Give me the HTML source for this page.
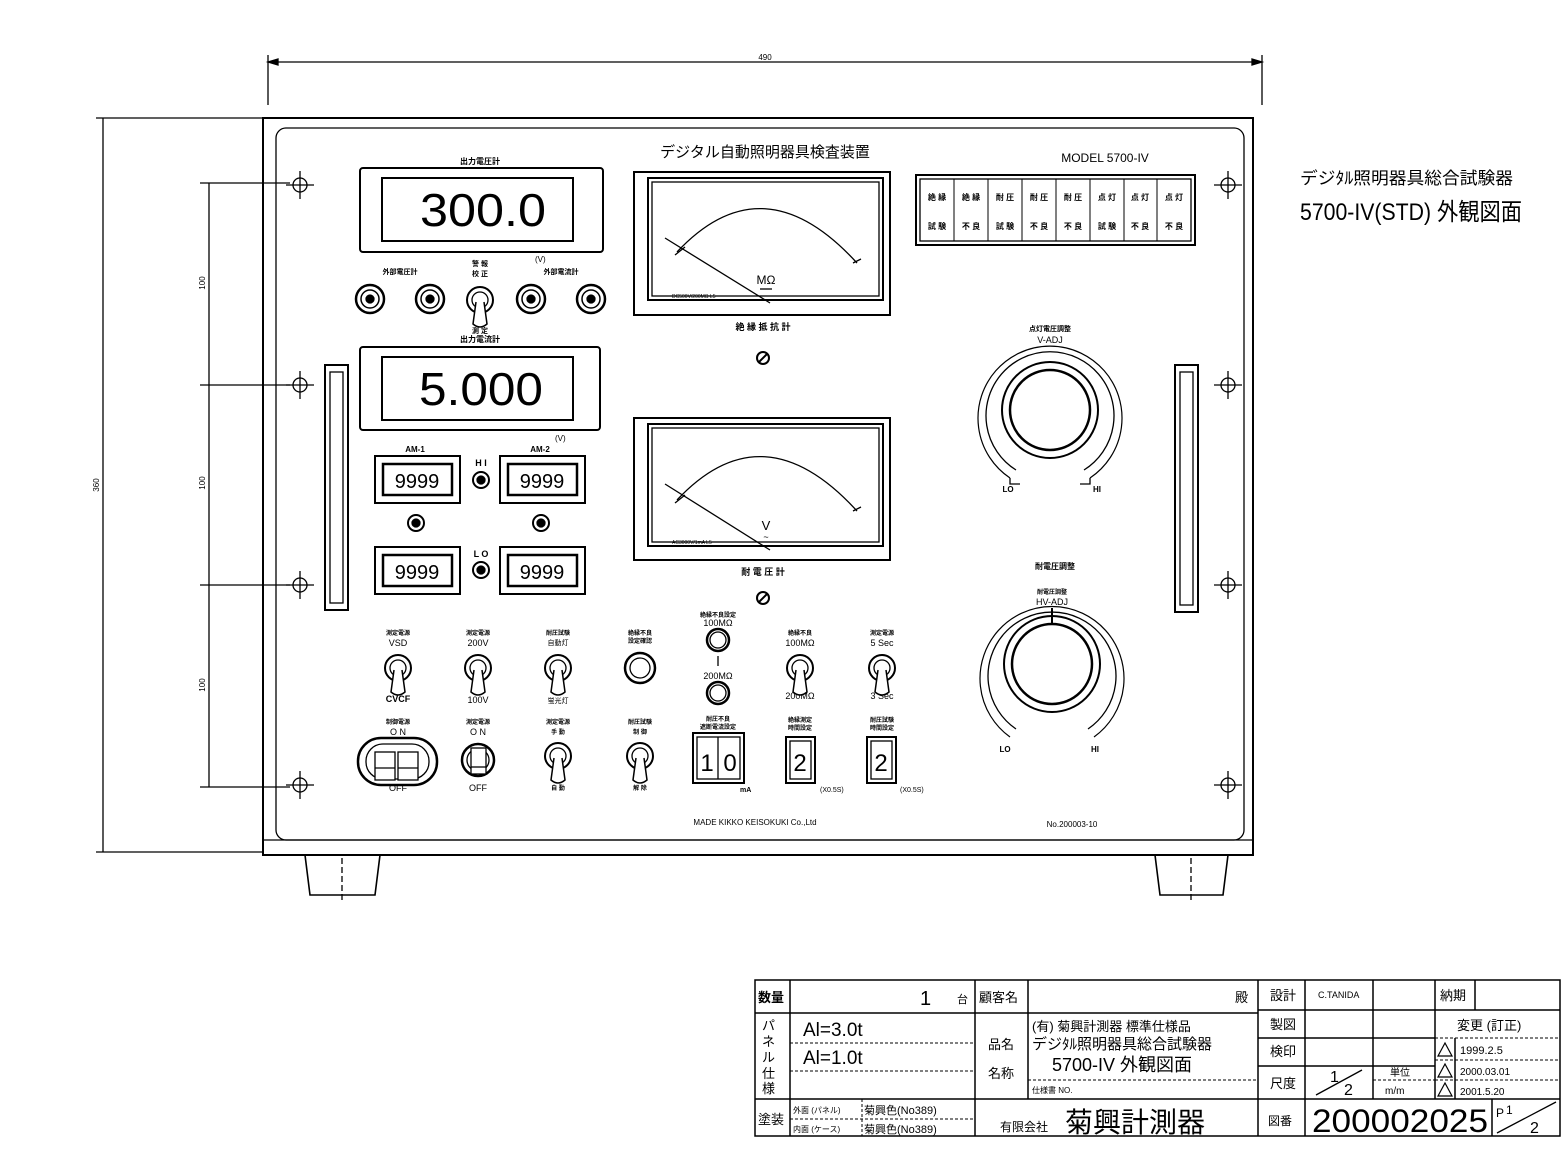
<!DOCTYPE html>
<html><head><meta charset="utf-8"><style>
html,body{margin:0;padding:0;background:#fff}
svg{display:block}
text{font-family:"Liberation Sans","Noto Sans CJK JP",sans-serif;fill:#000}
.b{font-weight:bold}
</style></head><body>
<svg width="1567" height="1150" viewBox="0 0 1567 1150" xmlns="http://www.w3.org/2000/svg" fill="none" stroke="#000" stroke-width="1.3">
<defs>
<g id="tog"><circle r="13" stroke-width="2"/><circle r="8"/><path d="M-4 2 L-7 24 Q0 30 7 24 L4 2" fill="#fff" stroke-width="1.5"/></g>
<g id="jack"><circle r="14" stroke-width="2.5"/><circle r="9" stroke-width="1.5"/><circle r="4" fill="#000"/></g>
<g id="hole"><circle r="7"/><line x1="-14" y1="0" x2="14" y2="0"/><line x1="0" y1="-14" x2="0" y2="14"/></g>
<g id="cnt"><rect x="0" y="0" width="85" height="47" stroke-width="2"/><rect x="8" y="8" width="69" height="31" stroke-width="2.5"/></g>
<g id="scr"><circle r="6" stroke-width="2"/><line x1="-4" y1="4" x2="4" y2="-4" stroke-width="2"/></g>
</defs>

<!-- top dimension -->
<line x1="268" y1="55" x2="268" y2="105"/><line x1="1262" y1="55" x2="1262" y2="105"/>
<line x1="268" y1="62" x2="1262" y2="62"/>
<path d="M268 62 l10 -3 v6z M1262 62 l-10 -3 v6z" fill="#000"/>
<text x="765" y="60" font-size="8" text-anchor="middle" stroke="none">490</text>

<!-- left dims -->
<line x1="96" y1="118" x2="262" y2="118"/><line x1="96" y1="852" x2="262" y2="852"/>
<line x1="103" y1="118" x2="103" y2="852"/>
<text x="99" y="485" font-size="8" text-anchor="middle" stroke="none" transform="rotate(-90 99 485)">360</text>
<line x1="209" y1="183" x2="209" y2="787"/>
<line x1="200" y1="183" x2="290" y2="183"/><line x1="200" y1="385" x2="290" y2="385"/><line x1="200" y1="585" x2="290" y2="585"/><line x1="200" y1="787" x2="290" y2="787"/>
<text x="205" y="283" font-size="8" text-anchor="middle" stroke="none" transform="rotate(-90 205 283)">100</text>
<text x="205" y="483" font-size="8" text-anchor="middle" stroke="none" transform="rotate(-90 205 483)">100</text>
<text x="205" y="685" font-size="8" text-anchor="middle" stroke="none" transform="rotate(-90 205 685)">100</text>

<!-- panel -->
<rect x="263" y="118" width="990" height="737" stroke-width="2"/>
<rect x="276" y="128" width="968" height="712" rx="10"/>
<line x1="263" y1="840" x2="1253" y2="840"/>
<path d="M305 855 L310 895 L375 895 L380 855" stroke-width="1.6"/>
<path d="M1155 855 L1160 895 L1223 895 L1228 855" stroke-width="1.6"/>
<line x1="342" y1="858" x2="342" y2="900" stroke-dasharray="6 3"/>
<line x1="1191" y1="858" x2="1191" y2="900" stroke-dasharray="6 3"/>

<!-- holes -->
<use href="#hole" x="300" y="185"/><use href="#hole" x="300" y="385"/><use href="#hole" x="300" y="585"/><use href="#hole" x="300" y="785"/>
<use href="#hole" x="1228" y="185"/><use href="#hole" x="1228" y="385"/><use href="#hole" x="1228" y="585"/><use href="#hole" x="1228" y="785"/>

<!-- handles -->
<rect x="325" y="365" width="23" height="245" stroke-width="2"/><rect x="330" y="372" width="13" height="231"/>
<rect x="1175" y="365" width="23" height="247" stroke-width="2"/><rect x="1180" y="372" width="13" height="233"/>

<!-- titles -->
<text x="765" y="157" font-size="15" text-anchor="middle" stroke="none">デジタル自動照明器具検査装置</text>
<text x="1105" y="162" font-size="12" text-anchor="middle" stroke="none">MODEL 5700-IV</text>
<text x="1300" y="184" font-size="17" stroke="none" textLength="213" lengthAdjust="spacingAndGlyphs">デジﾀﾙ照明器具総合試験器</text>
<text x="1300" y="220" font-size="24" stroke="none" textLength="222" lengthAdjust="spacingAndGlyphs">5700-IV(STD) 外観図面</text>

<!-- display 1 -->
<text x="480" y="164" font-size="8" text-anchor="middle" class="b" stroke="none">出力電圧計</text>
<rect x="360" y="168" width="243" height="84" rx="3" stroke-width="2"/>
<rect x="382" y="178" width="191" height="63" stroke-width="2"/>
<text x="483" y="226" font-size="46" text-anchor="middle" stroke="none" textLength="126" lengthAdjust="spacingAndGlyphs">300.0</text>
<text x="535" y="262" font-size="8" stroke="none">(V)</text>
<text x="400" y="274" font-size="7" text-anchor="middle" class="b" stroke="none">外部電圧計</text>
<text x="480" y="266" font-size="7" text-anchor="middle" class="b" stroke="none">警 報</text>
<text x="480" y="276" font-size="7" text-anchor="middle" class="b" stroke="none">校 正</text>
<text x="561" y="274" font-size="7" text-anchor="middle" class="b" stroke="none">外部電流計</text>
<use href="#jack" x="370" y="299"/><use href="#jack" x="430" y="299"/><use href="#jack" x="531" y="299"/><use href="#jack" x="591" y="299"/>
<use href="#tog" x="480" y="300"/>
<text x="480" y="333" font-size="7" text-anchor="middle" class="b" stroke="none">測 定</text>
<text x="480" y="342" font-size="8" text-anchor="middle" class="b" stroke="none">出力電流計</text>

<!-- display 2 -->
<rect x="360" y="347" width="240" height="83" rx="3" stroke-width="2"/>
<rect x="382" y="357" width="191" height="63" stroke-width="2"/>
<text x="481" y="405" font-size="46" text-anchor="middle" stroke="none" textLength="124" lengthAdjust="spacingAndGlyphs">5.000</text>
<text x="555" y="441" font-size="8" stroke="none">(V)</text>

<!-- counters -->
<text x="415" y="452" font-size="8" text-anchor="middle" class="b" stroke="none">AM-1</text>
<text x="540" y="452" font-size="8" text-anchor="middle" class="b" stroke="none">AM-2</text>
<use href="#cnt" x="375" y="456"/><use href="#cnt" x="500" y="456"/>
<use href="#cnt" x="375" y="547"/><use href="#cnt" x="500" y="547"/>
<text x="417" y="488" font-size="20" text-anchor="middle" stroke="none">9999</text>
<text x="542" y="488" font-size="20" text-anchor="middle" stroke="none">9999</text>
<text x="417" y="579" font-size="20" text-anchor="middle" stroke="none">9999</text>
<text x="542" y="579" font-size="20" text-anchor="middle" stroke="none">9999</text>
<text x="481" y="466" font-size="9" text-anchor="middle" class="b" stroke="none">H I</text>
<text x="481" y="557" font-size="9" text-anchor="middle" class="b" stroke="none">L O</text>
<circle cx="481" cy="480" r="8" stroke-width="2"/><circle cx="481" cy="480" r="4" fill="#000"/>
<circle cx="481" cy="570" r="8" stroke-width="2"/><circle cx="481" cy="570" r="4" fill="#000"/>
<circle cx="416" cy="523" r="8" stroke-width="2"/><circle cx="416" cy="523" r="4" fill="#000"/>
<circle cx="541" cy="523" r="8" stroke-width="2"/><circle cx="541" cy="523" r="4" fill="#000"/>

<!-- meter 1 -->
<rect x="634" y="172" width="256" height="143" stroke-width="2"/>
<rect x="648" y="178" width="235" height="122" stroke-width="2"/>
<rect x="652" y="182" width="227" height="114"/>
<path d="M677 252 Q763 160 857 263"/>
<line x1="675" y1="255" x2="685" y2="247"/><line x1="853" y1="263" x2="861" y2="259"/>
<line x1="665" y1="238" x2="770" y2="303"/>
<text x="766" y="284" font-size="12" text-anchor="middle" stroke="none">MΩ</text>
<line x1="760" y1="289" x2="772" y2="289"/>
<text x="672" y="298" font-size="5" stroke="none">DC500V/200MΩ L5</text>
<text x="763" y="330" font-size="9" text-anchor="middle" class="b" stroke="none">絶 縁 抵 抗 計</text>
<use href="#scr" x="763" y="358"/>

<!-- meter 2 -->
<rect x="634" y="418" width="256" height="142" stroke-width="2"/>
<rect x="648" y="424" width="235" height="122" stroke-width="2"/>
<rect x="652" y="428" width="227" height="114"/>
<path d="M677 500 Q763 408 857 511"/>
<line x1="675" y1="503" x2="685" y2="495"/><line x1="853" y1="511" x2="861" y2="507"/>
<line x1="665" y1="484" x2="770" y2="550"/>
<text x="766" y="530" font-size="13" text-anchor="middle" stroke="none">V</text>
<text x="766" y="540" font-size="9" text-anchor="middle" stroke="none">~</text>
<text x="672" y="544" font-size="5" stroke="none">AC3000V/1mA L5</text>
<text x="763" y="575" font-size="9" text-anchor="middle" class="b" stroke="none">耐 電 圧 計</text>
<use href="#scr" x="763" y="598"/>

<!-- lamp panel -->
<rect x="916" y="175" width="279" height="70" stroke-width="2"/>
<rect x="920" y="179" width="271" height="62"/>
<g stroke-width="1">
<line x1="954" y1="179" x2="954" y2="241"/><line x1="988" y1="179" x2="988" y2="241"/><line x1="1022" y1="179" x2="1022" y2="241"/><line x1="1056" y1="179" x2="1056" y2="241"/><line x1="1090" y1="179" x2="1090" y2="241"/><line x1="1124" y1="179" x2="1124" y2="241"/><line x1="1157" y1="179" x2="1157" y2="241"/>
</g>
<g font-size="8" text-anchor="middle" class="b" stroke="none">
<text x="937" y="200">絶 縁</text><text x="971" y="200">絶 縁</text><text x="1005" y="200">耐 圧</text><text x="1039" y="200">耐 圧</text><text x="1073" y="200">耐 圧</text><text x="1107" y="200">点 灯</text><text x="1140" y="200">点 灯</text><text x="1174" y="200">点 灯</text>
<text x="937" y="229">試 験</text><text x="971" y="229">不 良</text><text x="1005" y="229">試 験</text><text x="1039" y="229">不 良</text><text x="1073" y="229">不 良</text><text x="1107" y="229">試 験</text><text x="1140" y="229">不 良</text><text x="1174" y="229">不 良</text>
</g>

<!-- knob 1 -->
<text x="1050" y="331" font-size="7" text-anchor="middle" class="b" stroke="none">点灯電圧調整</text>
<text x="1050" y="343" font-size="9" text-anchor="middle" stroke="none">V-ADJ</text>
<path d="M1010 478 A72 72 0 1 1 1090 478" stroke-width="1.2"/>
<path d="M1016 470 A64 64 0 1 1 1084 470"/>
<circle cx="1050" cy="410" r="48" stroke-width="2"/><circle cx="1050" cy="410" r="40" stroke-width="2.5"/>
<path d="M1010 478 v6 h10 M1090 478 v6 h-10"/>
<text x="1008" y="492" font-size="8" text-anchor="middle" class="b" stroke="none">LO</text>
<text x="1097" y="492" font-size="8" text-anchor="middle" class="b" stroke="none">HI</text>

<!-- knob 2 -->
<text x="1055" y="569" font-size="8" text-anchor="middle" class="b" stroke="none">耐電圧調整</text>
<text x="1052" y="594" font-size="6" text-anchor="middle" class="b" stroke="none">耐電圧調整</text>
<text x="1052" y="605" font-size="9" text-anchor="middle" stroke="none">HV-ADJ</text>
<path d="M1010 737 A72 72 0 1 1 1094 737" stroke-width="1.2"/>
<path d="M1016 729 A64 64 0 1 1 1088 729"/>
<circle cx="1052" cy="664" r="48" stroke-width="2"/><circle cx="1052" cy="664" r="40" stroke-width="2.5"/>
<line x1="1052" y1="608" x2="1052" y2="624" stroke-width="2"/>
<text x="1005" y="752" font-size="8" text-anchor="middle" class="b" stroke="none">LO</text>
<text x="1095" y="752" font-size="8" text-anchor="middle" class="b" stroke="none">HI</text>

<!-- row 1 switches -->
<g font-size="6" text-anchor="middle" class="b" stroke="none">
<text x="398" y="635">測定電源</text><text x="478" y="635">測定電源</text><text x="558" y="635">耐圧試験</text><text x="640" y="635">絶縁不良</text><text x="640" y="643">設定確認</text>
<text x="718" y="617">絶縁不良設定</text><text x="800" y="635">絶縁不良</text><text x="882" y="635">測定電源</text>
</g>
<g font-size="9" text-anchor="middle" stroke="none">
<text x="398" y="646">VSD</text><text x="478" y="646">200V</text><text x="558" y="645" font-size="7">自動灯</text>
<text x="718" y="626">100MΩ</text><text x="800" y="646">100MΩ</text><text x="882" y="646">5 Sec</text>
<text x="398" y="702" class="b">CVCF</text><text x="478" y="703">100V</text><text x="558" y="703" font-size="7">蛍光灯</text>
<text x="718" y="679">200MΩ</text><text x="800" y="699">200MΩ</text><text x="882" y="699">3 Sec</text>
</g>
<use href="#tog" x="398" y="668"/><use href="#tog" x="478" y="668"/><use href="#tog" x="558" y="668"/><use href="#tog" x="800" y="668"/><use href="#tog" x="882" y="668"/>
<circle cx="640" cy="668" r="15" stroke-width="2.5"/><circle cx="640" cy="668" r="10"/>
<circle cx="718" cy="640" r="11" stroke-width="2.5"/><circle cx="718" cy="640" r="8"/>
<circle cx="718" cy="693" r="11" stroke-width="2.5"/><circle cx="718" cy="693" r="8"/>
<line x1="718" y1="656" x2="718" y2="666"/>

<!-- row 2 -->
<g font-size="6" text-anchor="middle" class="b" stroke="none">
<text x="398" y="724">制御電源</text><text x="478" y="724">測定電源</text><text x="558" y="724">測定電源</text><text x="558" y="734">手 動</text>
<text x="640" y="724">耐圧試験</text><text x="640" y="734">制 御</text>
<text x="718" y="721">耐圧不良</text><text x="718" y="729">遮断電流設定</text>
<text x="800" y="722">絶縁測定</text><text x="800" y="730">時間設定</text>
<text x="882" y="722">耐圧試験</text><text x="882" y="730">時間設定</text>
<text x="558" y="790">自 動</text><text x="640" y="790">解 除</text>
</g>
<text x="398" y="735" font-size="9" text-anchor="middle" stroke="none">O N</text>
<text x="478" y="735" font-size="9" text-anchor="middle" stroke="none">O N</text>
<text x="398" y="791" font-size="9" text-anchor="middle" stroke="none">OFF</text>
<text x="478" y="791" font-size="9" text-anchor="middle" stroke="none">OFF</text>
<rect x="358" y="738" width="79" height="47" rx="23" stroke-width="2.5"/>
<rect x="366" y="744" width="63" height="35" rx="17"/>
<rect x="375" y="752" width="20" height="28" fill="#fff"/><rect x="398" y="752" width="20" height="28" fill="#fff"/>
<line x1="375" y1="768" x2="395" y2="768"/><line x1="398" y1="768" x2="418" y2="768"/>
<circle cx="478" cy="760" r="16" stroke-width="2.5"/><circle cx="478" cy="760" r="11"/>
<rect x="471" y="748" width="15" height="26" fill="#fff"/><line x1="471" y1="767" x2="486" y2="767"/>
<use href="#tog" x="558" y="756"/><use href="#tog" x="640" y="756"/>
<rect x="693" y="733" width="51" height="50" stroke-width="2"/><rect x="697" y="737" width="43" height="42"/>
<line x1="718" y1="737" x2="718" y2="779"/>
<text x="707" y="771" font-size="24" text-anchor="middle" stroke="none">1</text>
<text x="730" y="771" font-size="24" text-anchor="middle" stroke="none">0</text>
<text x="740" y="792" font-size="7" class="b" stroke="none">mA</text>
<rect x="786" y="737" width="29" height="46" stroke-width="2"/><rect x="790" y="741" width="21" height="38"/>
<text x="800" y="771" font-size="24" text-anchor="middle" stroke="none">2</text>
<rect x="867" y="737" width="29" height="46" stroke-width="2"/><rect x="871" y="741" width="21" height="38"/>
<text x="881" y="771" font-size="24" text-anchor="middle" stroke="none">2</text>
<text x="820" y="792" font-size="7" stroke="none">(X0.5S)</text>
<text x="900" y="792" font-size="7" stroke="none">(X0.5S)</text>

<text x="755" y="825" font-size="8" text-anchor="middle" stroke="none">MADE KIKKO KEISOKUKI Co.,Ltd</text>
<text x="1072" y="827" font-size="8" text-anchor="middle" stroke="none">No.200003-10</text>

<!-- title block -->
<g stroke-width="1.5">
<rect x="755" y="980" width="805" height="156"/>
<line x1="755" y1="1013" x2="1258" y2="1013"/>
<line x1="755" y1="1099" x2="1560" y2="1099"/>
<line x1="790" y1="980" x2="790" y2="1136"/>
<line x1="975" y1="980" x2="975" y2="1136"/>
<line x1="1028" y1="980" x2="1028" y2="1099"/>
<line x1="1258" y1="980" x2="1258" y2="1136"/>
<line x1="1305" y1="980" x2="1305" y2="1136"/>
<line x1="1258" y1="1010" x2="1560" y2="1010"/>
<line x1="1258" y1="1038" x2="1435" y2="1038"/>
<line x1="1258" y1="1066" x2="1435" y2="1066"/>
<line x1="1373" y1="980" x2="1373" y2="1099"/>
<line x1="1435" y1="980" x2="1435" y2="1099"/>
<line x1="1475" y1="980" x2="1475" y2="1010"/>
<line x1="1492" y1="1099" x2="1492" y2="1136"/>
<line x1="1455" y1="1038" x2="1455" y2="1099"/>
</g>
<g stroke-width="1" stroke-dasharray="3 2">
<line x1="790" y1="1043" x2="975" y2="1043"/><line x1="790" y1="1071" x2="975" y2="1071"/>
<line x1="1028" y1="1080" x2="1258" y2="1080"/>
<line x1="790" y1="1119" x2="975" y2="1119"/>
<line x1="862" y1="1099" x2="862" y2="1136"/>
<line x1="1435" y1="1038" x2="1560" y2="1038"/><line x1="1435" y1="1060" x2="1560" y2="1060"/><line x1="1435" y1="1080" x2="1560" y2="1080"/>
<line x1="1373" y1="1080" x2="1435" y2="1080"/>
</g>
<line x1="1316" y1="1095" x2="1362" y2="1070"/>
<line x1="1497" y1="1133" x2="1556" y2="1102"/>
<path d="M1438 1056 l7 -13 l7 13z M1438 1077 l7 -13 l7 13z M1438 1096 l7 -13 l7 13z" stroke-width="1.2"/>
<g stroke="none" font-size="13">
<text x="758" y="1002" class="b">数量</text>
<text x="920" y="1005" font-size="20">1</text><text x="957" y="1003" font-size="11">台</text>
<text x="979" y="1002">顧客名</text><text x="1235" y="1002">殿</text>
<text x="1270" y="1000">設計</text><text x="1318" y="998" font-size="9">C.TANIDA</text><text x="1440" y="1000">納期</text>
<text x="762" y="1030">パ</text><text x="762" y="1046">ネ</text><text x="762" y="1062">ル</text><text x="762" y="1078">仕</text><text x="762" y="1093">様</text>
<text x="803" y="1036" font-size="19">Al=3.0t</text>
<text x="803" y="1064" font-size="19">Al=1.0t</text>
<text x="988" y="1049">品名</text><text x="988" y="1078">名称</text>
<text x="1032" y="1031" font-size="13">(有) 菊興計測器 標準仕様品</text>
<text x="1032" y="1049" font-size="15">デジﾀﾙ照明器具総合試験器</text>
<text x="1052" y="1071" font-size="18">5700-IV 外観図面</text>
<text x="1032" y="1093" font-size="8">仕様書  NO.</text>
<text x="1270" y="1029">製図</text><text x="1270" y="1056">検印</text><text x="1270" y="1088">尺度</text>
<text x="1457" y="1030">変更 (訂正)</text>
<text x="1330" y="1082" font-size="16">1</text><text x="1344" y="1095" font-size="16">2</text>
<text x="1390" y="1076" font-size="10">単位</text><text x="1385" y="1094" font-size="10">m/m</text>
<text x="1460" y="1054" font-size="11">1999.2.5</text>
<text x="1460" y="1075" font-size="10">2000.03.01</text>
<text x="1460" y="1095" font-size="10">2001.5.20</text>
<text x="758" y="1124">塗装</text>
<text x="793" y="1113" font-size="8">外面 (パネル)</text><text x="864" y="1114" font-size="11">菊興色(No389)</text>
<text x="793" y="1132" font-size="8">内面 (ケース)</text><text x="864" y="1133" font-size="11">菊興色(No389)</text>
<text x="1000" y="1131" font-size="12">有限会社</text><text x="1065" y="1132" font-size="28">菊興計測器</text>
<text x="1268" y="1125" font-size="12">図番</text>
<text x="1312" y="1132" font-size="32" textLength="176" lengthAdjust="spacingAndGlyphs">200002025</text>
<text x="1496" y="1117" font-size="12">P</text><text x="1506" y="1114" font-size="12">1</text><text x="1530" y="1133" font-size="16">2</text>
</g>
</svg>
</body></html>
